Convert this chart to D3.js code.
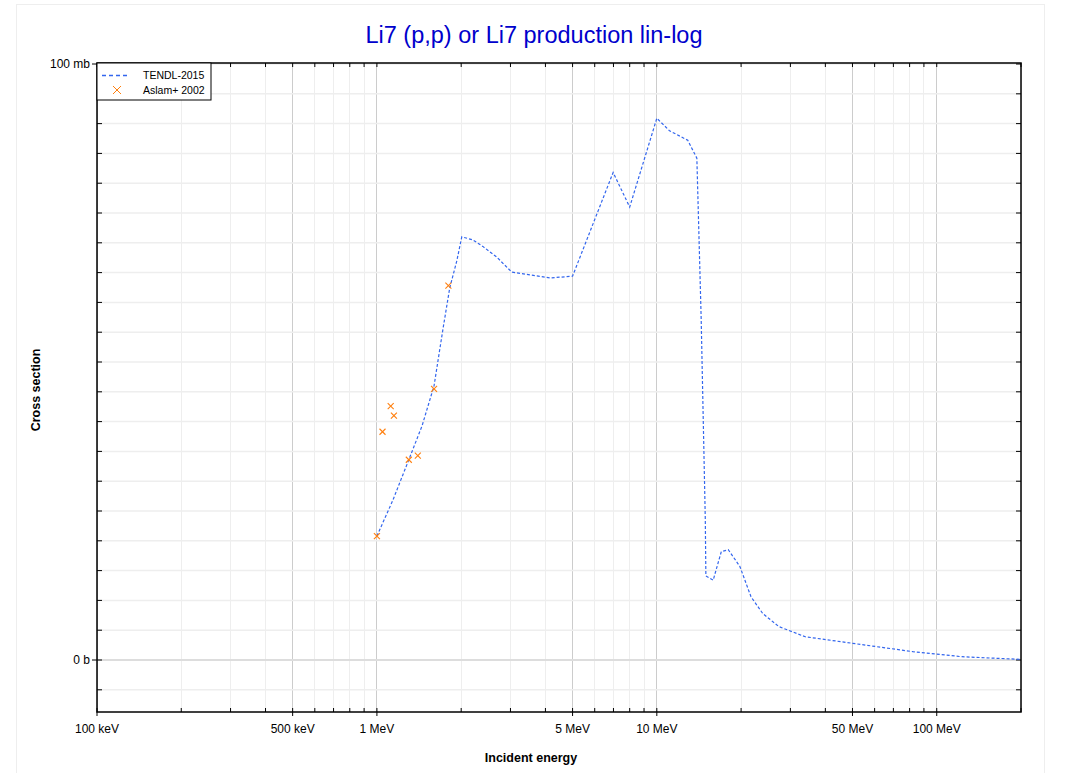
<!DOCTYPE html>
<html>
<head>
<meta charset="utf-8">
<script src="https://cdn.jsdelivr.net/npm/d3@7"></script>
<style>
  html, body { margin: 0; padding: 0; background: #fff; }
  svg { display: block; font-family: "Liberation Sans", Arial, sans-serif; }
</style>
</head>
<body>
<svg id="chart" width="1069" height="773"></svg>
<script>
// ---- data (energies in MeV, cross sections in mb) ----
const tendlEnergy = [1.0, 1.14, 1.30, 1.45, 1.60, 1.72, 1.82, 1.93, 2.01, 2.20, 2.39, 2.68, 3.03, 4.15, 5.0,
  6.98, 8.0, 10.0, 11.1, 12.9, 13.9, 14.4, 14.9, 14.97, 15.9, 17.0, 18.0, 19.8, 21.7, 23.9, 27.3,
  33.9, 50.0, 82.2, 123, 200];
const tendlXS = [20.8, 26.8, 33.6, 39.3, 46.0, 55.4, 62.4, 67.0, 71.0, 70.5, 69.4, 67.6, 65.1, 64.1, 64.4,
  81.8, 76.0, 90.9, 88.8, 87.2, 84.2, 57.4, 23.5, 14.1, 13.4, 18.2, 18.5, 15.7, 10.6, 7.8, 5.6,
  3.9, 2.8, 1.4, 0.55, 0.1];
const aslamEnergy = [1.0, 1.047, 1.12, 1.15, 1.30, 1.40, 1.60, 1.80];
const aslamXS = [20.8, 38.3, 42.6, 41.0, 33.6, 34.3, 45.5, 62.8];
const xTickValues = [0.1, 0.5, 1, 5, 10, 50, 100];
const xTickLabels = ["100 keV", "500 keV", "1 MeV", "5 MeV", "10 MeV", "50 MeV", "100 MeV"];
const yTickValues = [0, 100];
const yTickLabels = ["0 b", "100 mb"];
const seriesNames = ["TENDL-2015", "Aslam+ 2002"];

const svg = d3.select("#chart");
const L = 97, R = 1021, T = 63, B = 712;

const x = d3.scaleLog().domain([0.1, 200]).range([L, R]);
const y = d3.scaleLinear().domain([-8.725, 100.17]).range([B, T]);

// outer border
svg.append("rect").attr("x", 16.5).attr("y", 4.5).attr("width", 1028).attr("height", 780)
  .attr("fill", "none").attr("stroke", "#eeeeee").attr("stroke-width", 1);

// minor / major x values
const xMinor = [];
for (let d = 0.1; d < 300; d *= 10) {
  for (let m = 1; m <= 9; m++) {
    const v = +(d * m).toPrecision(6);
    if (v >= 0.1 && v <= 200) xMinor.push(v);
  }
}
const yMinor = d3.range(-5, 101, 5);

const grid = svg.append("g");
grid.selectAll(".xg").data(xMinor).join("line")
  .attr("x1", d => x(d)).attr("x2", d => x(d)).attr("y1", T).attr("y2", B)
  .attr("stroke", d => xTickValues.includes(d) ? "#cccccc" : "#eeeeee").attr("stroke-width", 1)
  .attr("shape-rendering", "crispEdges");
grid.selectAll(".yg").data(yMinor).join("line")
  .attr("x1", L).attr("x2", R).attr("y1", d => y(d)).attr("y2", d => y(d))
  .attr("stroke", d => d === 0 ? "#dddddd" : "#eeeeee").attr("stroke-width", d => d === 0 ? 2 : 1.5);

// ticks
const tk = svg.append("g").attr("stroke", "#000").attr("stroke-width", 1);
xMinor.forEach(v => {
  const major = xTickValues.includes(v);
  tk.append("line").attr("x1", x(v)).attr("x2", x(v)).attr("y1", B - 4).attr("y2", major ? B + 4 : B);
  tk.append("line").attr("x1", x(v)).attr("x2", x(v)).attr("y1", T + 4).attr("y2", T);
});
yMinor.forEach(v => {
  const major = yTickValues.includes(v);
  tk.append("line").attr("y1", y(v)).attr("y2", y(v)).attr("x1", major ? L - 5 : L).attr("x2", L + 5);
  tk.append("line").attr("y1", y(v)).attr("y2", y(v)).attr("x1", R - 5).attr("x2", R);
});

// frame
svg.append("rect").attr("x", L).attr("y", T).attr("width", R - L).attr("height", B - T)
  .attr("fill", "none").attr("stroke", "#000").attr("stroke-width", 1.5);

// axis tick labels
svg.append("g").selectAll("text").data(xTickValues).join("text")
  .attr("x", d => x(d)).attr("y", B + 21).attr("text-anchor", "middle")
  .attr("font-size", 12).attr("fill", "#000").text((d, i) => xTickLabels[i]);
svg.append("g").selectAll("text").data(yTickValues).join("text")
  .attr("x", L - 7).attr("y", d => y(d) + 4).attr("text-anchor", "end")
  .attr("font-size", 12).attr("fill", "#000").text((d, i) => yTickLabels[i]);

// title and axis labels
svg.append("text").attr("x", 534).attr("y", 43).attr("text-anchor", "middle")
  .attr("font-size", 23.5).attr("fill", "#0000cc").text("Li7 (p,p) or Li7 production lin-log");
svg.append("text").attr("x", 531).attr("y", 762).attr("text-anchor", "middle")
  .attr("font-size", 12.5).attr("font-weight", "bold").text("Incident energy");
svg.append("text").attr("transform", "translate(40,390) rotate(-90)").attr("text-anchor", "middle")
  .attr("font-size", 12.5).attr("font-weight", "bold").text("Cross section");

// clip
svg.append("clipPath").attr("id", "clip").append("rect")
  .attr("x", L).attr("y", T).attr("width", R - L).attr("height", B - T);

// TENDL line
const tendl = tendlEnergy.map((e, i) => [e, tendlXS[i]]);
svg.append("path").datum(tendl).attr("clip-path", "url(#clip)")
  .attr("d", d3.line().x(d => x(d[0])).y(d => y(d[1])))
  .attr("fill", "none").attr("stroke", "#3366ee").attr("stroke-width", 1.2)
  .attr("stroke-dasharray", "3,2");

// Aslam points (x markers)
const pts = aslamEnergy.map((e, i) => [e, aslamXS[i]]);
const s = 3;
const pg = svg.append("g").attr("stroke", "#ff7f0e").attr("stroke-width", 1.1);
pts.forEach(p => {
  const cx = x(p[0]), cy = y(p[1]);
  pg.append("line").attr("x1", cx - s).attr("y1", cy - s).attr("x2", cx + s).attr("y2", cy + s);
  pg.append("line").attr("x1", cx - s).attr("y1", cy + s).attr("x2", cx + s).attr("y2", cy - s);
});

// legend
const lg = svg.append("g");
lg.append("rect").attr("x", L).attr("y", T).attr("width", 114).attr("height", 37)
  .attr("fill", "#fff").attr("stroke", "#000").attr("stroke-width", 1);
lg.append("line").attr("x1", 102).attr("x2", 128).attr("y1", 75.5).attr("y2", 75.5)
  .attr("stroke", "#3366ee").attr("stroke-width", 1.5).attr("stroke-dasharray", "4,3");
lg.append("line").attr("x1", 113).attr("y1", 86).attr("x2", 121).attr("y2", 94)
  .attr("stroke", "#ff7f0e").attr("stroke-width", 1);
lg.append("line").attr("x1", 113).attr("y1", 94).attr("x2", 121).attr("y2", 86)
  .attr("stroke", "#ff7f0e").attr("stroke-width", 1);
lg.selectAll("text.lt").data(seriesNames).join("text")
  .attr("x", 143).attr("y", (d, i) => 79 + i * 15).attr("font-size", 10.5).attr("fill", "#000")
  .text(d => d);
</script>
</body>
</html>
